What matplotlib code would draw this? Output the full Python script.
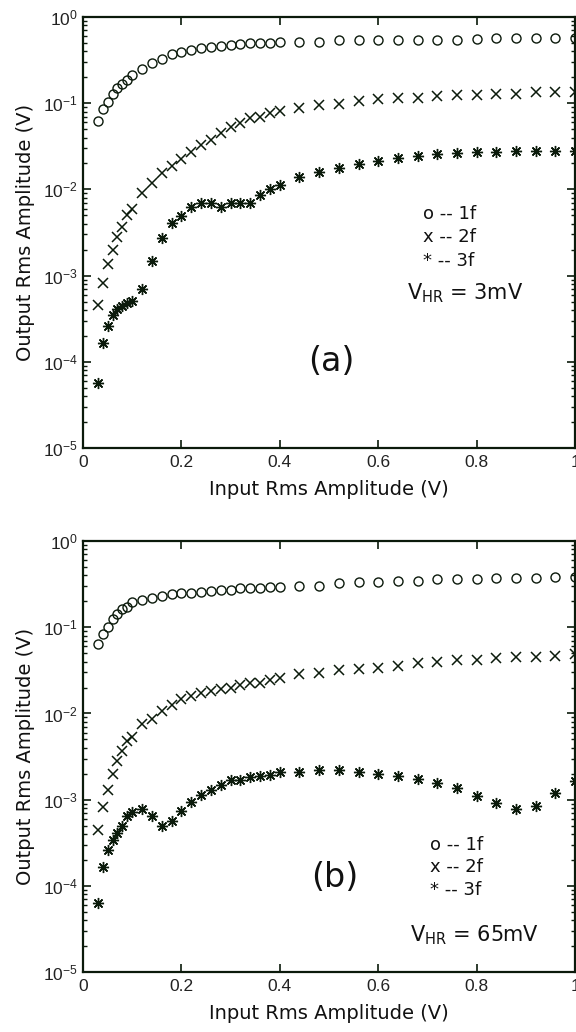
import matplotlib
matplotlib.use('Agg')
import matplotlib.pyplot as plt
from matplotlib.ticker import LogLocator, NullFormatter, FixedLocator

INK = '#0b1a0b'

# input rms amplitude (V), same grid for every series
x_in = [0.03, 0.04, 0.05, 0.06, 0.07, 0.08, 0.09, 0.10,
        0.12, 0.14, 0.16, 0.18, 0.20, 0.22, 0.24, 0.26, 0.28, 0.30,
        0.32, 0.34, 0.36, 0.38, 0.40,
        0.44, 0.48, 0.52, 0.56, 0.60, 0.64, 0.68, 0.72, 0.76, 0.80,
        0.84, 0.88, 0.92, 0.96, 1.00]

# panel (a), V_HR = 3mV
a_1f = [0.063, 0.085, 0.104, 0.127, 0.149, 0.167, 0.186, 0.212,
        0.249, 0.290, 0.326, 0.369, 0.396, 0.414, 0.434, 0.445, 0.461, 0.473,
        0.486, 0.495, 0.495, 0.500, 0.517,
        0.517, 0.517, 0.541, 0.541, 0.541, 0.541, 0.541, 0.541, 0.541, 0.556,
        0.566, 0.566, 0.566, 0.566, 0.566]
a_2f = [0.00046, 0.00081, 0.00135, 0.00198, 0.00282, 0.0037, 0.00505, 0.0060,
        0.0090, 0.0120, 0.0154, 0.0188, 0.0223, 0.0274, 0.0327, 0.0374, 0.0448, 0.0534,
        0.0594, 0.0668, 0.0698, 0.0763, 0.081,
        0.087, 0.0953, 0.098, 0.106, 0.111, 0.116, 0.116, 0.121, 0.125, 0.125,
        0.128, 0.128, 0.134, 0.134, 0.136]
a_3f = [0.000057, 0.000167, 0.00026, 0.000349, 0.000406, 0.000444, 0.00048, 0.00051,
        0.00070, 0.00149, 0.00275, 0.0041, 0.0049, 0.0063, 0.0069, 0.0069, 0.0063, 0.0069,
        0.0070, 0.0070, 0.0086, 0.0100, 0.01125,
        0.0140, 0.0160, 0.0176, 0.0197, 0.0214, 0.0233, 0.0244, 0.0255, 0.0262, 0.0274,
        0.0274, 0.0281, 0.0281, 0.0281, 0.0281]

# panel (b), V_HR = 65mV
b_1f = [0.0634, 0.083, 0.102, 0.124, 0.142, 0.162, 0.174, 0.194,
        0.208, 0.221, 0.231, 0.242, 0.253, 0.249, 0.257, 0.264, 0.271, 0.271,
        0.282, 0.282, 0.282, 0.290, 0.290,
        0.303, 0.303, 0.322, 0.331, 0.331, 0.346, 0.346, 0.362, 0.362, 0.362,
        0.371, 0.371, 0.371, 0.384, 0.384]
b_2f = [0.00044, 0.00082, 0.0013, 0.0020, 0.00279, 0.00364, 0.00476, 0.00536,
        0.00745, 0.00868, 0.0106, 0.0127, 0.0146, 0.0159, 0.0171, 0.0182, 0.0190, 0.0199,
        0.0212, 0.0223, 0.0228, 0.0244, 0.0260,
        0.0284, 0.0297, 0.0319, 0.0325, 0.0340, 0.0355, 0.0389, 0.0399, 0.0413, 0.0413,
        0.0436, 0.0452, 0.0452, 0.0464, 0.0485]
b_3f = [0.000064, 0.000167, 0.00026, 0.00034, 0.00041, 0.00050, 0.00064, 0.00071,
        0.00078, 0.00064, 0.00050, 0.00056, 0.00073, 0.00093, 0.00114, 0.00131, 0.00146, 0.00168,
        0.00171, 0.00184, 0.00190, 0.00195, 0.00208,
        0.00208, 0.00219, 0.00219, 0.00208, 0.00199, 0.00190, 0.00175, 0.00156, 0.00137, 0.00111,
        0.00091, 0.00078, 0.00085, 0.00120, 0.00163]

x_ticks = [0, 0.2, 0.4, 0.6, 0.8, 1]
x_ticklabels = ['0', '0.2', '0.4', '0.6', '0.8', '1']

panels = [
    (a_1f, a_2f, a_3f, '(a)', '3mV',
     (0.504, 0.200), (0.691, [0.543, 0.490, 0.434]), (0.659, 0.360)),
    (b_1f, b_2f, b_3f, '(b)', '65mV',
     (0.512, 0.219), (0.705, [0.295, 0.244, 0.191]), (0.665, 0.086)),
]

plt.rcParams['font.family'] = ['Liberation Sans', 'DejaVu Sans']
LABEL_FONT = 'DejaVu Sans'

fig = plt.figure(figsize=(5.76, 10.32), dpi=100, facecolor='white')

ax_boxes = [[0.1441, 0.5659, 0.8542, 0.4176],
            [0.1441, 0.0581, 0.8542, 0.4176]]

for box, (s1, s2, s3, tag, vhr, tag_pos, leg, vhr_pos) in zip(ax_boxes, panels):
    ax = fig.add_axes(box)
    ax.set_yscale('log')
    ax.set_xlim(0, 1)
    ax.set_ylim(1e-5, 1)

    ax.plot(x_in, s1, linestyle='none', marker='o', ms=6.5, mfc='none',
            mec=INK, mew=1.0, clip_on=False)
    ax.plot(x_in, s2, linestyle='none', marker='x', ms=7, mec=INK,
            mew=1.1, clip_on=False)
    ax.plot(x_in, s3, linestyle='none', marker=(8, 2, 0), ms=8, mec=INK,
            mew=1.0, clip_on=False)

    ax.xaxis.set_major_locator(FixedLocator(x_ticks))
    ax.set_xticklabels(x_ticklabels)
    ax.yaxis.set_major_locator(LogLocator(base=10, numticks=10))
    ax.yaxis.set_minor_locator(LogLocator(base=10, subs=range(2, 10), numticks=10))
    ax.yaxis.set_minor_formatter(NullFormatter())

    ax.tick_params(which='both', direction='in', top=True, right=True,
                   color=INK, labelcolor='#222222', labelsize=12.5)
    ax.tick_params(which='major', length=6, width=1.2)
    ax.tick_params(which='minor', length=3, width=1.0)
    ax.tick_params(axis='x', pad=5)
    for sp in ax.spines.values():
        sp.set_linewidth(1.6)
        sp.set_color(INK)

    ax.set_xlabel('Input Rms Amplitude (V)', fontsize=14, color='#111111',
                  labelpad=7, family=LABEL_FONT)
    ax.set_ylabel('Output Rms Amplitude (V)', fontsize=14, color='#111111',
                  labelpad=6, family=LABEL_FONT)

    ax.text(tag_pos[0], tag_pos[1], tag, transform=ax.transAxes,
            fontsize=24, ha='center', va='center', color='#111111',
            family=LABEL_FONT)
    lx, lys = leg
    for ly, lab in zip(lys, ['o -- 1f', 'x -- 2f', '* -- 3f']):
        ax.text(lx, ly, lab, transform=ax.transAxes, fontsize=13,
                ha='left', va='center', color='#111111', family=LABEL_FONT)
    ax.text(vhr_pos[0], vhr_pos[1], r'$\mathregular{V_{HR}}$ = ' + vhr,
            transform=ax.transAxes, fontsize=15, ha='left', va='center',
            color='#111111', family=LABEL_FONT)

fig.savefig('out.png', dpi=100, facecolor='white')
